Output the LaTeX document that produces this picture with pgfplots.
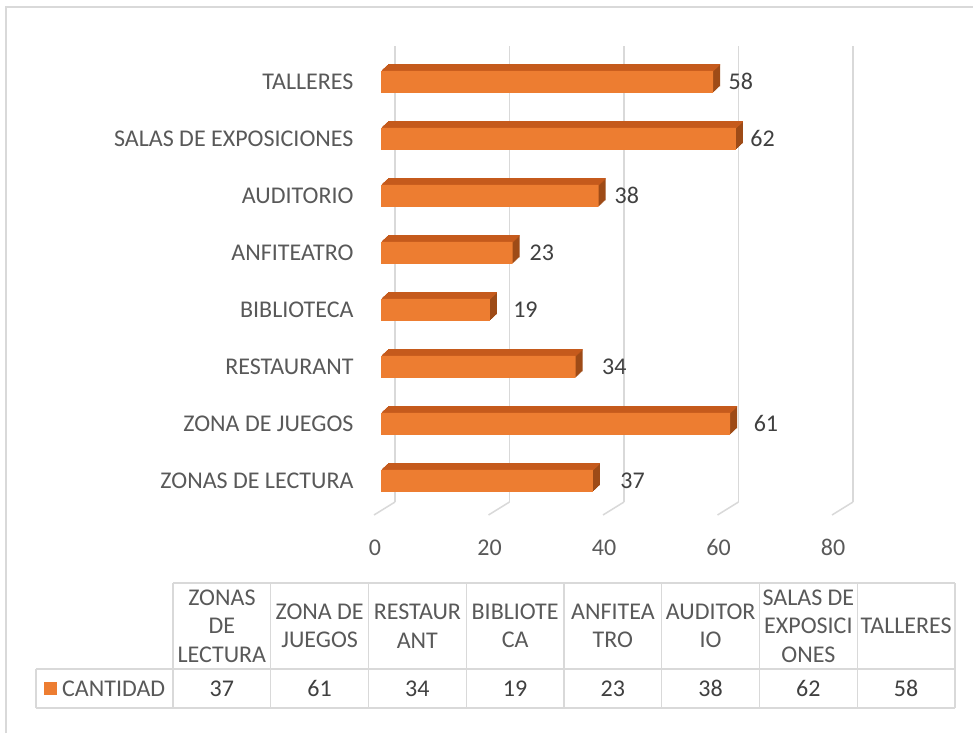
\documentclass[border=0pt]{standalone}
\usepackage{fontspec}
\setmainfont{Carlito}
\usepackage{pgfplots}
\usepackage{pgfplotstable}
\pgfplotsset{compat=1.18}
\definecolor{bar}{HTML}{ED7D31}
\definecolor{bartop}{HTML}{C55A1C}
\definecolor{barside}{HTML}{9E4B17}
\definecolor{txt}{HTML}{595959}
\definecolor{val}{HTML}{404040}
\definecolor{gridc}{HTML}{D9D9D9}
\newcommand\fs{\fontsize{24}{28.5}\selectfont}

\pgfplotstableread{
y v off
0 37 24
1 61 20
2 34 23
3 19 20
4 23 13.5
5 38 12.5
6 62 11
7 58 12
}\data

\begin{document}
\begin{tikzpicture}[x=1pt,y=1pt]
\useasboundingbox (0,0) rectangle (973,733);
\fill[white] (0,0) rectangle (973,733);
\draw[gridc, line width=1.5pt] (6,0) -- (6,726) -- (973,726);
\begin{axis}[
  at={(381pt,218pt)}, anchor=south west, scale only axis,
  width=458pt, height=456pt,
  xmin=0, xmax=80, ymin=-0.6, ymax=7.4,
  xbar, bar width=22pt,
  axis line style={draw=none}, major tick length=0pt,
  xtick={0,20,...,80}, ytick={0,...,7},
  yticklabels={ZONAS DE LECTURA, ZONA DE JUEGOS, RESTAURANT, BIBLIOTECA, ANFITEATRO, AUDITORIO, SALAS DE EXPOSICIONES, TALLERES},
  xmajorgrids, ymajorgrids=false,
  major grid style={gridc, line width=1.5pt, xshift=14pt, yshift=13pt},
  ticklabel style={font=\fs, text=txt},
  /pgf/number format/assume math mode=true,
  xticklabel style={xshift=-6pt, yshift=-21pt},
  yticklabel style={xshift=-24pt},
  clip=false,
]
\pgfplotsinvokeforeach{0,20,40,60,80}{
  \draw[gridc, line width=1.5pt] ([xshift=-7pt]axis cs:#1,-0.6) -- ([xshift=14pt,yshift=13pt]axis cs:#1,-0.6);
}
\pgfplotsinvokeforeach{1,2,3,4,5,6,7}{
  \addplot[draw=none, fill=barside, bar shift=0pt, xshift=#1pt, yshift={#1*0.93pt}] table[x=v,y=y]{\data};
}
\pgfplotsinvokeforeach{1,2,3,4,5,6,7}{
  \addplot[draw=none, fill=bartop, bar width=1.4pt, bar shift=11pt, xshift=#1pt, yshift={#1*0.93pt-0.5pt}] table[x=v,y=y]{\data};
}
\addplot[draw=none, fill=bar, bar shift=0pt,
  visualization depends on={\thisrow{off} \as \off},
  nodes near coords,
  every node near coord/.append style={font=\fs, text=val, xshift=\off pt}] table[x=v,y=y]{\data};
\end{axis}
% data table
\draw[gridc, line width=1.2pt] (173,150) -- (955,150);
\draw[gridc, line width=1.2pt] (36,64) -- (955,64);
\draw[gridc, line width=1.2pt] (36,25) -- (955,25);
\draw[gridc, line width=1.2pt] (36,25) -- (36,64);
\foreach \i in {0,...,8} {
  \draw[gridc, line width=1.2pt] ({173+97.75*\i},25) -- ({173+97.75*\i},150);
}
\tikzset{hdr/.style={align=flush center, text width=97pt, font=\fs, text=txt, inner sep=0pt}}
\node[hdr] at ({173+97.75*0.5},107) {ZONAS\\DE\\LECTURA};
\node[hdr] at ({173+97.75*1.5},107) {ZONA DE\\JUEGOS};
\node[hdr] at ({173+97.75*2.5},107) {RESTAUR\\ANT};
\node[hdr] at ({173+97.75*3.5},107) {BIBLIOTE\\CA};
\node[hdr] at ({173+97.75*4.5},107) {ANFITEA\\TRO};
\node[hdr] at ({173+97.75*5.5},107) {AUDITOR\\IO};
\node[hdr] at ({173+97.75*6.5},107) {SALAS DE\\EXPOSICI\\ONES};
\node[hdr] at ({173+97.75*7.5},107) {TALLERES};
\fill[bar] (44,38) rectangle (57,51);
\node[anchor=west, font=\fs, text=txt, inner sep=0pt] at (62,44.5) {CANTIDAD};
\foreach \v [count=\i from 0] in {37,61,34,19,23,38,62,58} {
  \node[font=\fs, text=val, inner sep=0pt] at ({173+97.75*(\i+0.5)},44.5) {\v};
}
\end{tikzpicture}
\end{document}
